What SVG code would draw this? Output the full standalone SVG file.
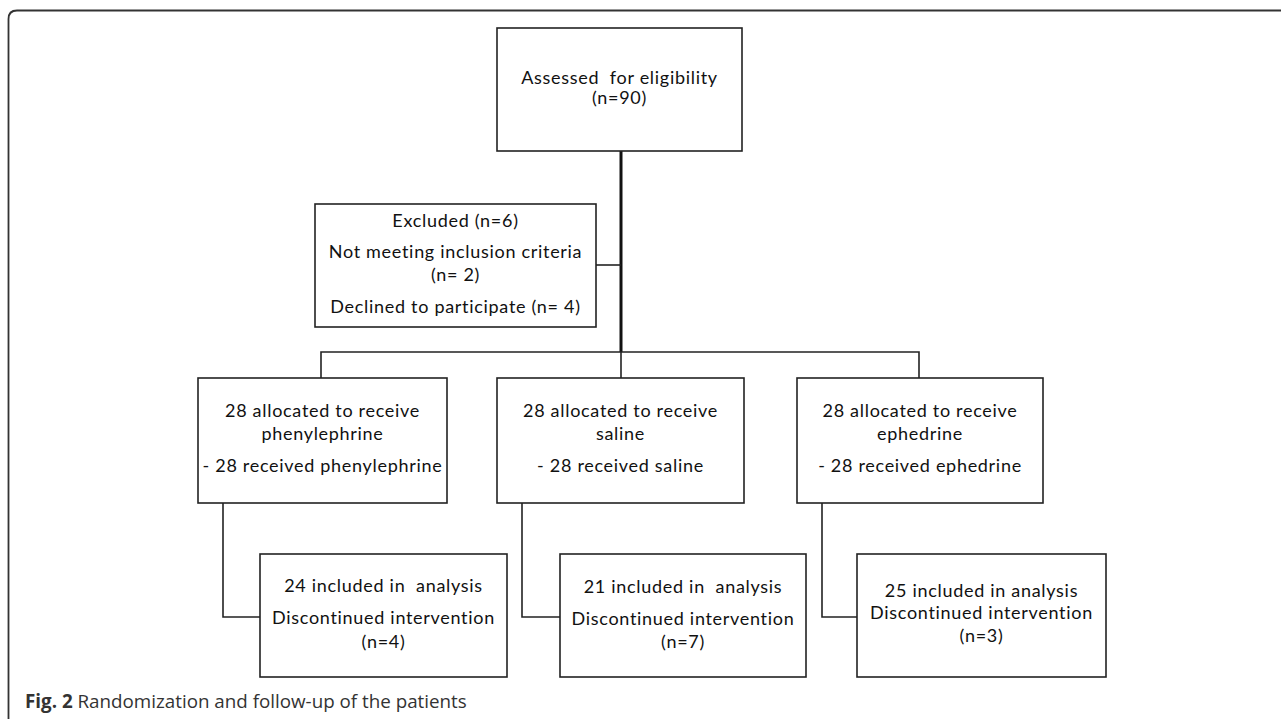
<svg xmlns="http://www.w3.org/2000/svg" width="1281" height="719" viewBox="0 0 1281 719">
<style>
.box{fill:#fff;stroke:#222;stroke-width:1.6}
.t{font-family:Lato,"Liberation Sans",sans-serif;font-size:18px;letter-spacing:0.7px;fill:#111;text-anchor:middle;white-space:pre}
.ln{fill:none;stroke:#222;stroke-width:1.6}
.cap{font-family:"Open Sans","Liberation Sans",sans-serif;font-size:18.8px;fill:#333}
</style>
<rect width="1281" height="719" fill="#fff"/>
<path d="M8.5 719 V19 Q8.5 10.5 17 10.5 H1281" fill="none" stroke="#333" stroke-width="1.8"/>
<g id="connectors">
<line x1="621" y1="151" x2="621" y2="352" stroke="#111" stroke-width="3"/>
<line class="ln" x1="596" y1="265" x2="621" y2="265"/>
<path class="ln" d="M321 378 V352 H919 V378"/>
<line class="ln" x1="621" y1="352" x2="621" y2="378"/>
<path class="ln" d="M223 503 V617 H260"/>
<path class="ln" d="M522 503 V617 H560"/>
<path class="ln" d="M822 503 V617 H857"/>
</g>
<g id="assessed">
<rect class="box" x="497" y="28" width="245" height="123"/>
<text class="t" x="619.5" y="84" xml:space="preserve">Assessed  for eligibility</text>
<text class="t" x="619.5" y="104">(n=90)</text>
</g>
<g id="excluded">
<rect class="box" x="315" y="204" width="281" height="123"/>
<text class="t" x="455.5" y="227">Excluded (n=6)</text>
<text class="t" x="455.5" y="258">Not meeting inclusion criteria</text>
<text class="t" x="455.5" y="281">(n= 2)</text>
<text class="t" x="455.5" y="313">Declined to participate (n= 4)</text>
</g>
<g id="phenylephrine">
<rect class="box" x="198" y="378" width="249" height="125"/>
<text class="t" x="322.5" y="417">28 allocated to receive</text>
<text class="t" x="322.5" y="440">phenylephrine</text>
<text class="t" x="322.5" y="472">- 28 received phenylephrine</text>
</g>
<g id="saline">
<rect class="box" x="497" y="378" width="247" height="125"/>
<text class="t" x="620.5" y="417">28 allocated to receive</text>
<text class="t" x="620.5" y="440">saline</text>
<text class="t" x="620.5" y="472">- 28 received saline</text>
</g>
<g id="ephedrine">
<rect class="box" x="797" y="378" width="246" height="125"/>
<text class="t" x="920" y="417">28 allocated to receive</text>
<text class="t" x="920" y="440">ephedrine</text>
<text class="t" x="920" y="472">- 28 received ephedrine</text>
</g>
<g id="analysis-phenylephrine">
<rect class="box" x="260" y="554" width="247" height="123"/>
<text class="t" x="383.5" y="592" xml:space="preserve">24 included in  analysis</text>
<text class="t" x="383.5" y="624">Discontinued intervention</text>
<text class="t" x="383.5" y="648">(n=4)</text>
</g>
<g id="analysis-saline">
<rect class="box" x="560" y="554" width="246" height="123"/>
<text class="t" x="683" y="593" xml:space="preserve">21 included in  analysis</text>
<text class="t" x="683" y="625">Discontinued intervention</text>
<text class="t" x="683" y="648">(n=7)</text>
</g>
<g id="analysis-ephedrine">
<rect class="box" x="857" y="554" width="249" height="123"/>
<text class="t" x="981.5" y="597">25 included in analysis</text>
<text class="t" x="981.5" y="619">Discontinued intervention</text>
<text class="t" x="981.5" y="642">(n=3)</text>
</g>
<text class="cap" x="25" y="708"><tspan font-weight="bold">Fig. 2</tspan> Randomization and follow-up of the patients</text>
</svg>
